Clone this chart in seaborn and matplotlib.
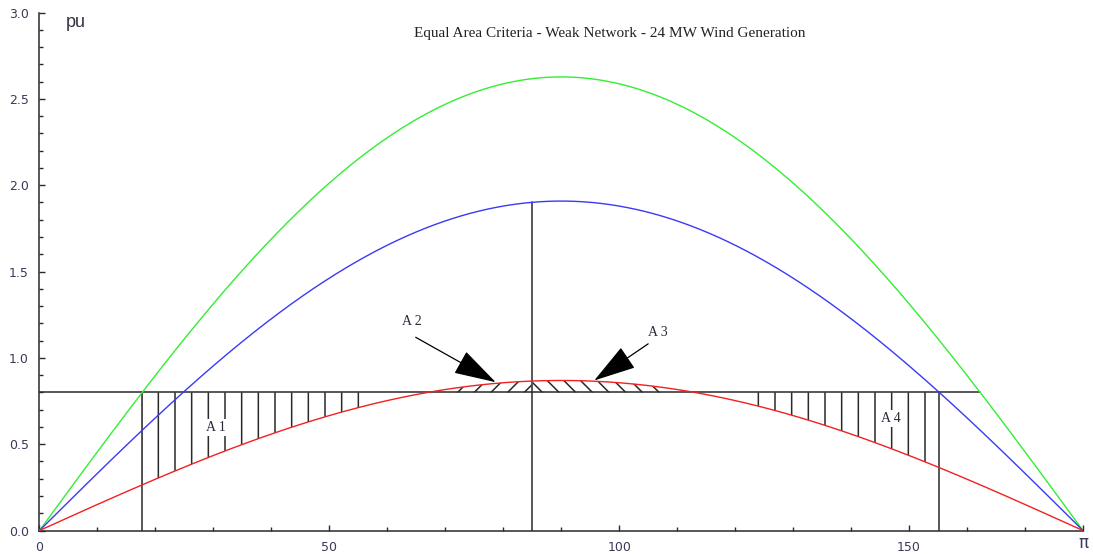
import numpy as np
import pandas as pd
import matplotlib
matplotlib.use("Agg")
import matplotlib.pyplot as plt
import matplotlib.transforms as mtransforms
import seaborn as sns
from matplotlib.ticker import MultipleLocator

# Power-angle curves P = Pmax * sin(delta), peak values in pu
curve_names = ["Pre-fault", "Post-fault", "During fault"]
curve_pmax = [2.627, 1.908, 0.869]
curve_colors = ["#33ee33", "#3a3af5", "#f22020"]

# Mechanical input power (pu) and fault clearing angle (degrees)
p_mech = 0.80
delta_clear = 85.0

# Axis ticks
xtick_vals = [0, 50, 100, 150, 180]
xtick_labels = ["0", "50", "100", "150", "π"]
ytick_vals = [0.0, 0.5, 1.0, 1.5, 2.0, 2.5, 3.0]
ytick_labels = ["0.0", "0.5", "1.0", "1.5", "2.0", "2.5", "3.0"]

# Area annotations
area_names = ["A 1", "A 2", "A 3", "A 4"]
area_text_x = [30.5, 64.2, 106.6, 146.9]
area_text_y = [0.596, 1.212, 1.148, 0.650]

title_text = "Equal Area Criteria - Weak Network - 24 MW Wind Generation"

sns.set_style("ticks")
plt.rcParams["font.family"] = ["DejaVu Sans"]
plt.rcParams["hatch.linewidth"] = 1.1

delta = np.linspace(0, 180, 1441)
rad = np.radians(delta)
frames = [pd.DataFrame({"delta": delta, "P": pm * np.sin(rad), "curve": name})
          for name, pm in zip(curve_names, curve_pmax)]
df = pd.concat(frames, ignore_index=True)

fig = plt.figure(figsize=(10.93, 5.54), dpi=100)
ax = fig.add_axes([0.0361, 0.0424, 0.9547, 0.935])

sns.lineplot(data=df, x="delta", y="P", hue="curve", hue_order=curve_names,
             palette=dict(zip(curve_names, curve_colors)), linewidth=1.0,
             legend=False, ax=ax, zorder=3)

p_pre, p_post, p_fault = curve_pmax
delta0 = np.degrees(np.arcsin(p_mech / p_pre))
delta_max = 180 - np.degrees(np.arcsin(p_mech / p_post))
delta_pre_right = 180 - delta0
line_col = "#2a2a2a"

# Mechanical power line and the three characteristic angles
ax.plot([0, delta_pre_right], [p_mech, p_mech], color=line_col, lw=1.1, zorder=2)
ax.plot([delta0, delta0], [0, p_mech], color=line_col, lw=1.1, zorder=2)
ax.plot([delta_clear, delta_clear], [0, p_post * np.sin(np.radians(delta_clear))],
        color=line_col, lw=1.1, zorder=2)
ax.plot([delta_max, delta_max], [0, p_mech], color=line_col, lw=1.1, zorder=2)

# Hatched areas between the mechanical line and the fault curve
p_fault_curve = p_fault * np.sin(rad)
gap = p_mech - p_fault_curve
acc = (delta >= delta0) & (delta <= delta_clear) & (gap > 0.07)
dec = (delta >= delta_clear) & (delta <= delta_max) & (gap > 0.07)
ax.fill_between(delta, p_fault_curve, p_mech, where=acc, facecolor="none",
                edgecolor=line_col, hatch="|", linewidth=0, zorder=1)
ax.fill_between(delta, p_fault_curve, p_mech, where=dec, facecolor="none",
                edgecolor=line_col, hatch="|", linewidth=0, zorder=1)
top_left = (delta < delta_clear) & (-gap > 0.025)
top_right = (delta > delta_clear) & (-gap > 0.025)
ax.fill_between(delta, p_mech, p_fault_curve, where=top_left, facecolor="none",
                edgecolor=line_col, hatch="//", linewidth=0, zorder=1)
ax.fill_between(delta, p_mech, p_fault_curve, where=top_right, facecolor="none",
                edgecolor=line_col, hatch="\\\\", linewidth=0, zorder=1)

serif = ["Liberation Serif", "DejaVu Serif"]
lbl_col = "#2a2a3a"
for name, tx, ty in zip(area_names, area_text_x, area_text_y):
    ax.text(tx, ty, name, ha="center", va="center", fontsize=10, family=serif,
            color=lbl_col, zorder=5,
            bbox=dict(facecolor="white", edgecolor="none", pad=1.5)
            if name in ("A 1", "A 4") else None)

# Arrows pointing at the small areas above the mechanical line
arrow_style = dict(arrowstyle="-|>,head_length=2.7,head_width=0.8", color="black",
                   lw=0.9, mutation_scale=10, shrinkA=0, shrinkB=0)
ax.annotate("", xy=(78.7, 0.859), xytext=(64.9, 1.119), arrowprops=arrow_style, zorder=6)
ax.annotate("", xy=(95.7, 0.869), xytext=(105.0, 1.081), arrowprops=arrow_style, zorder=6)

ax.text(0.547, 0.960, title_text, transform=ax.transAxes, ha="center", va="center",
        fontsize=11, family=serif, color="#222222")
ax.text(6.2, 2.94, "pu", ha="center", va="center", fontsize=13,
        family=["Liberation Sans", "DejaVu Sans"], color="#333344")

ax.set_xlim(0, 180)
ax.set_ylim(0, 3.0)
ax.set_xticks(xtick_vals)
ax.set_xticklabels(xtick_labels)
ax.set_yticks(ytick_vals)
ax.set_yticklabels(ytick_labels)
ax.xaxis.set_minor_locator(MultipleLocator(10))
ax.yaxis.set_minor_locator(MultipleLocator(0.1))
ax.tick_params(axis="both", which="major", direction="in", length=4.5, width=1.0,
               color=line_col, labelsize=9, labelcolor="#3a3a5a")
ax.tick_params(axis="x", which="major", pad=7.5)
ax.tick_params(axis="y", which="major", pad=7.5)
ax.tick_params(axis="both", which="minor", direction="in", length=3, width=1.0,
               color=line_col)
# The pi label sits slightly higher and larger than the numeric labels
lift = mtransforms.ScaledTranslation(0, 5 / 72, fig.dpi_scale_trans)
for lab in ax.get_xticklabels():
    if lab.get_text() == "π":
        lab.set_fontsize(12)
        lab.set_transform(lab.get_transform() + lift)
ax.set_xlabel("")
ax.set_ylabel("")
for side in ("top", "right"):
    ax.spines[side].set_visible(False)
for side in ("left", "bottom"):
    ax.spines[side].set_color(line_col)
    ax.spines[side].set_linewidth(1.1)

fig.savefig("out.png", dpi=100)
